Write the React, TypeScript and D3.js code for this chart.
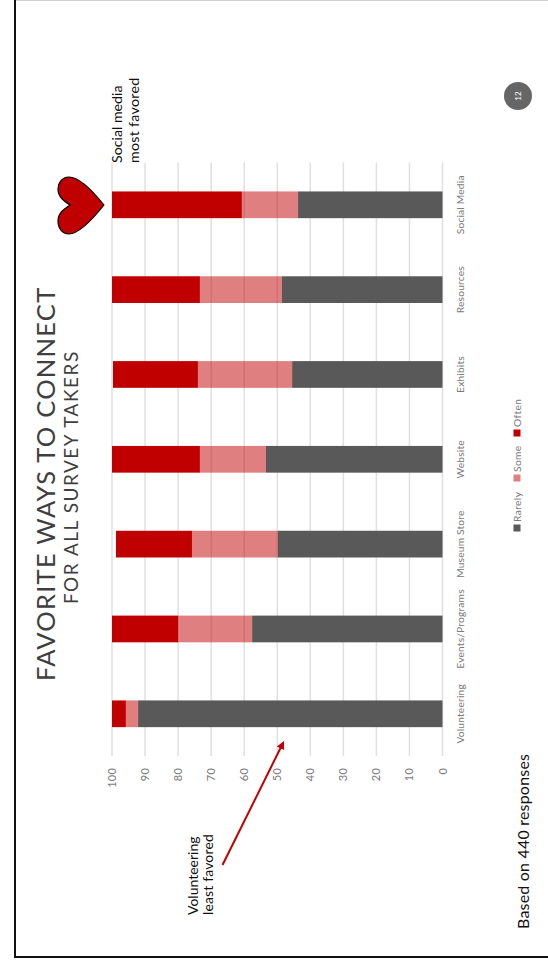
import React from "react";
import * as d3 from "d3";

const categories = ["Social Media", "Resources", "Exhibits", "Website", "Museum Store", "Events/Programs", "Volunteering"];
const rarely = [43.7, 48.6, 45.5, 53.4, 49.8, 57.6, 92.1];
const some = [17, 24.8, 28.5, 20, 26, 22.4, 3.7];
const often = [39.3, 26.6, 25.7, 26.6, 23, 20, 4.2];
const seriesNames = ["Rarely", "Some", "Often"];
const ticks = [0, 10, 20, 30, 40, 50, 60, 70, 80, 90, 100];

const RED = "#c00000";
const GREY = "#595959";
const FONT = "Lato, 'Noto Sans', sans-serif";
const seriesFill: Record<string, string> = { Rarely: GREY, Some: RED, Often: RED };
const seriesOpacity: Record<string, number> = { Rarely: 1, Some: 0.5, Often: 1 };

const rows = categories.map((c, i) => ({ category: c, Rarely: rarely[i], Some: some[i], Often: often[i] }));
const stacked = d3.stack<any>().keys(seriesNames)(rows);

const x = d3.scaleLinear().domain([0, 100]).range([442.5, 112]);
const y = d3.scaleBand().domain(categories).range([162.6, 756]).paddingInner(0.685).paddingOuter(0.34);

// Vertical text, read from the bottom of the page upward
function Up({ px, py, anchor = "start", children, ...rest }: any) {
  return (
    <text transform={`translate(${px},${py}) rotate(-90)`} textAnchor={anchor} fontFamily={FONT} {...rest}>
      {children}
    </text>
  );
}

const heart = "M104,205 C92,190 78,177 69,177 C62,177 58,183 58,189 C58,197 64,201 70,205 C64,209 58,213 58,221 C58,228 62,234 69,234 C78,234 92,220 104,205 Z";

export default function App() {
  const legendY: Record<string, number> = { Rarely: 528, Some: 478, Often: 433 };
  const arrowEnd = [284, 741];
  const arrowStart = [222.5, 865];
  const angle = Math.atan2(arrowEnd[1] - arrowStart[1], arrowEnd[0] - arrowStart[0]);
  const head = [0, 2.5, -2.5]
    .map((s, i) => {
      const back = i === 0 ? 0 : 8;
      const side = i === 0 ? 0 : s * 1.6;
      return [
        arrowEnd[0] - back * Math.cos(angle) - side * Math.sin(angle),
        arrowEnd[1] - back * Math.sin(angle) + side * Math.cos(angle),
      ].join(",");
    })
    .join(" ");

  return (
    <svg width={548} height={963} style={{ position: "absolute", left: 0, top: 0, background: "#fff" }}>
      {/* slide frame */}
      <line x1={15} x2={548} y1={0.5} y2={0.5} stroke="#d0d0d0" strokeWidth={1} />
      <line x1={15} x2={15} y1={0} y2={957} stroke="#111" strokeWidth={2} />
      <line x1={14} x2={548} y1={957} y2={957} stroke="#111" strokeWidth={2} />

      {/* gridlines */}
      {ticks.map((t) => (
        <line key={t} x1={x(t)} x2={x(t)} y1={162.6} y2={756} stroke="#e0e0e0" strokeWidth={1.5} />
      ))}

      {/* stacked bars */}
      {stacked.map((layer) =>
        layer.map((d, i) => (
          <rect
            key={layer.key + i}
            x={x(d[1])}
            width={x(d[0]) - x(d[1])}
            y={y(categories[i])}
            height={y.bandwidth()}
            fill={seriesFill[layer.key]}
            fillOpacity={seriesOpacity[layer.key]}
          />
        ))
      )}

      {/* value axis labels */}
      {ticks.map((t) => (
        <Up key={t} px={x(t) + 4} py={768} anchor="end" fontSize={11} letterSpacing={0.2} fill="#7a7a7a">
          {t}
        </Up>
      ))}

      {/* category labels */}
      {categories.map((c) => (
        <Up key={c} px={464} py={y(c)! + y.bandwidth() / 2} anchor="middle" fontSize={10.2} letterSpacing={0.2} fill="#7a7a7a">
          {c}
        </Up>
      ))}

      {/* title */}
      <Up px={55} py={681} fontSize={25.5} letterSpacing={1.25} fill="#3f3f3f">
        FAVORITE WAYS TO CONNECT
      </Up>
      <Up px={78} py={604} fontSize={19} letterSpacing={1.5} fill="#3f3f3f">
        FOR ALL SURVEY TAKERS
      </Up>

      {/* legend */}
      {seriesNames.map((s) => (
        <g key={s}>
          <rect
            x={513.5}
            y={legendY[s] - 3.5}
            width={7}
            height={7}
            fill={seriesFill[s]}
            fillOpacity={seriesOpacity[s]}
          />
          <Up px={521} py={legendY[s] - 6} fontSize={10.2} letterSpacing={0.4} fill="#7a7a7a">
            {s}
          </Up>
        </g>
      ))}

      {/* favoured callout */}
      <path d={heart} fill={RED} stroke="#000" strokeWidth={1.2} strokeLinejoin="round" />
      <Up px={122} py={163} fontSize={14.2} fill="#111">
        Social media
      </Up>
      <Up px={139} py={163} fontSize={14.2} letterSpacing={0.3} fill="#111">
        most favored
      </Up>

      {/* least favoured callout */}
      <line
        x1={arrowStart[0]}
        y1={arrowStart[1]}
        x2={arrowEnd[0] - 5 * Math.cos(angle)}
        y2={arrowEnd[1] - 5 * Math.sin(angle)}
        stroke={RED}
        strokeWidth={2}
      />
      <polygon points={head} fill={RED} />
      <Up px={198} py={915} fontSize={14} fill="#111">
        Volunteering
      </Up>
      <Up px={213} py={915} fontSize={14} letterSpacing={0.15} fill="#111">
        least favored
      </Up>

      {/* footnote */}
      <Up px={529} py={929} fontSize={16} letterSpacing={0.2} fill="#111">
        Based on 440 responses
      </Up>

      {/* page number */}
      <circle cx={518} cy={96} r={14} fill="#666" />
      <Up px={521} py={96} anchor="middle" fontSize={8} fill="#fff">
        12
      </Up>
    </svg>
  );
}
